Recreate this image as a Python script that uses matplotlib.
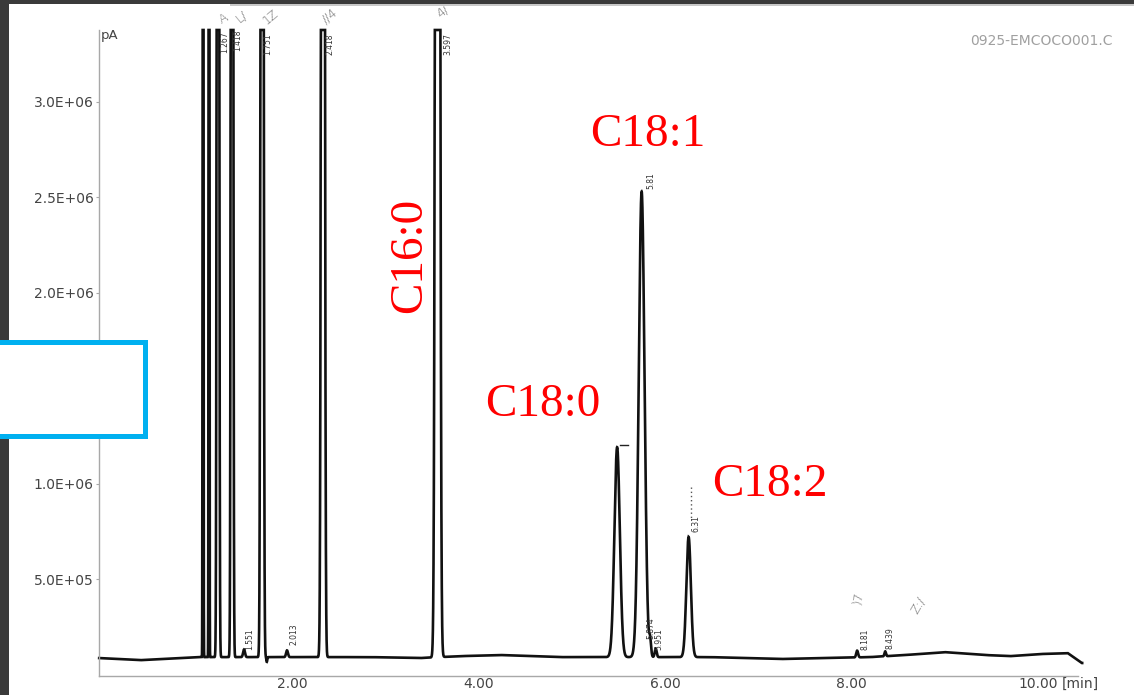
import numpy as np
import matplotlib
matplotlib.use("Agg")
import matplotlib.pyplot as plt
from matplotlib.patches import Rectangle
from matplotlib.lines import Line2D

# ---------------- data ----------------
# retention time [min], height above baseline [pA], width (sigma) [min]
peak_times = [1.044, 1.108, 1.204, 1.355, 1.484, 1.677, 1.728, 1.945, 2.33, 3.56,
              5.486, 5.749, 5.84, 5.90, 6.253, 8.061, 8.362]
peak_heights = [2.0e7, 2.0e7, 2.0e7, 2.0e7, 4.0e4, 2.0e7, -2.5e4, 3.5e4, 2.0e7, 2.0e7,
                1.10e6, 2.44e6, 8.0e4, 4.5e4, 6.3e5, 3.5e4, 2.5e4]
peak_sigmas = [0.003, 0.003, 0.008, 0.008, 0.010, 0.010, 0.005, 0.010, 0.012, 0.016,
               0.029, 0.031, 0.010, 0.010, 0.024, 0.010, 0.008]

# baseline knots (time [min], signal [pA])
base_t = [-0.07, 0.37, 1.01, 2.0, 2.84, 3.37, 3.8, 4.23, 4.87, 5.3, 6.48, 7.24,
          7.72, 8.2, 8.58, 9.0, 9.43, 9.7, 10.02, 10.32, 10.47]
base_v = [0.086e6, 0.075e6, 0.091e6, 0.091e6, 0.091e6, 0.086e6, 0.096e6, 0.102e6,
          0.091e6, 0.091e6, 0.091e6, 0.081e6, 0.086e6, 0.091e6, 0.102e6, 0.117e6,
          0.102e6, 0.096e6, 0.107e6, 0.112e6, 0.060e6]

# printed retention-time labels of peaks: (text, x px, y px)
rt_labels = [("1.267", 225, 42), ("1.418", 238, 40), ("1.751", 268, 44),
             ("2.418", 330, 44), ("3.597", 448, 44), ("5.81", 651, 181),
             ("6.31", 696, 524), ("1.551", 250, 639), ("2.013", 294, 634),
             ("5.874", 651, 628), ("5.951", 659, 639), ("8.181", 865, 639),
             ("8.439", 890, 638)]

# compound annotations (text, x px, y px, rotation)
compounds = [("C18:1", 648, 135, 0), ("C18:0", 543, 405, 0),
             ("C18:2", 770, 485, 0), ("C16:0", 410, 255, 90)]

ytick_vals = [0.5e6, 1.0e6, 1.5e6, 2.0e6, 2.5e6, 3.0e6]
ytick_labels = ["5.0E+05", "1.0E+06", "1.5E+06", "2.0E+06", "2.5E+06", "3.0E+06"]
xtick_vals = [2, 4, 6, 8, 10]
xtick_labels = ["2.00", "4.00", "6.00", "8.00", "10.00"]

# ---------------- figure ----------------
W, H = 1134, 695
fig = plt.figure(figsize=(W / 100, H / 100), dpi=100)
fig.patch.set_facecolor("white")

def fx(px):
    return px / W

def fy(py):
    return 1 - py / H

ax_l, ax_r, ax_t, ax_b = 99, 1078, 30, 676
ax = fig.add_axes([fx(ax_l), fy(ax_b), (ax_r - ax_l) / W, (ax_b - ax_t) / H])
ax.set_facecolor("white")
YMIN, YMAX = -0.008e6, 3.377e6
ax.set_xlim(-0.072, 10.43)
ax.set_ylim(YMIN, YMAX)

t = np.arange(-0.07, 10.475, 0.0004)
signal = np.interp(t, base_t, base_v)
for c, h, s in zip(peak_times, peak_heights, peak_sigmas):
    signal = signal + h * np.exp(-0.5 * ((t - c) / s) ** 2)
signal = np.minimum(signal, YMAX)
ax.plot(t, signal, color="#111111", lw=1.9, clip_on=False, solid_joinstyle="miter")

for side in ["top", "right"]:
    ax.spines[side].set_visible(False)
for side in ["left", "bottom"]:
    ax.spines[side].set_color("#a8a8a8")
    ax.spines[side].set_linewidth(1.0)
    ax.spines[side].set_linestyle((0, (3, 1)))

ax.set_yticks(ytick_vals)
ax.set_yticklabels(ytick_labels)
ax.set_xticks(xtick_vals)
ax.set_xticklabels(xtick_labels)
ax.tick_params(axis="y", length=2, width=0.8, color="#a8a8a8", pad=2,
               labelsize=10, labelcolor="#444444")
ax.tick_params(axis="x", length=0, pad=1, labelsize=10, labelcolor="#444444")
for lab in ax.get_yticklabels() + ax.get_xticklabels():
    lab.set_fontfamily("DejaVu Sans")

fig.text(fx(1062), fy(684), "[min]", fontsize=10, color="#444444",
         ha="left", va="center", family="DejaVu Sans")
fig.text(fx(101), fy(35), "pA", fontsize=9.5, color="#444444",
         ha="left", va="center", family="DejaVu Sans")
fig.text(fx(970), fy(41), "0925-EMCOCO001.C", fontsize=10, color="#a0a0a0",
         ha="left", va="center", family="DejaVu Sans")

# retention time labels
for txt, px, py in rt_labels:
    fig.text(fx(px), fy(py), txt, fontsize=5.5, color="#333333", rotation=90,
             ha="center", va="center", family="DejaVu Sans")

# integration marks
fig.add_artist(Line2D([fx(620), fx(628)], [fy(445), fy(445)], color="#222222", lw=1.0))
fig.add_artist(Line2D([fx(690.5), fx(690.5)], [fy(487), fy(520)], color="#555555",
                      lw=1.0, linestyle=(0, (1, 2))))

# handwritten marks
marks = [("A", 223, 18, 30), ("L/", 241, 16, 40), ("1Z", 270, 17, 40),
         ("//4", 330, 16, 40), ("4/", 443, 11, 40), (")7", 858, 598, 80),
         ("Z:/", 918, 605, 60)]
for txt, px, py, rot in marks:
    fig.text(fx(px), fy(py), txt, fontsize=9, color="#666666", rotation=rot,
             ha="center", va="center", family="DejaVu Sans", fontweight="light")

# compound labels
for txt, px, py, rot in compounds:
    fig.text(fx(px), fy(py), txt, fontsize=34, color="#ff0000", rotation=rot,
             ha="center", va="center", family="Liberation Serif")

# dark scan borders
fig.add_artist(Rectangle((0, 0), fx(9), 1, transform=fig.transFigure,
                         facecolor="#3a3a3a", edgecolor="none", zorder=5))
fig.add_artist(Rectangle((0, fy(4)), 1, 4 / H, transform=fig.transFigure,
                         facecolor="#3a3a3a", edgecolor="none", zorder=5))
fig.add_artist(Rectangle((fx(230), fy(6)), 1, 2 / H, transform=fig.transFigure,
                         facecolor="#c8c8c8", edgecolor="none", zorder=4))

# blue box
fig.add_artist(Rectangle((fx(-10), fy(436.5)), fx(154.5), 94 / H,
                         transform=fig.transFigure, facecolor="white",
                         edgecolor="#00b0f0", lw=3.6, zorder=6))

fig.savefig("out.png", dpi=100, facecolor="white")
